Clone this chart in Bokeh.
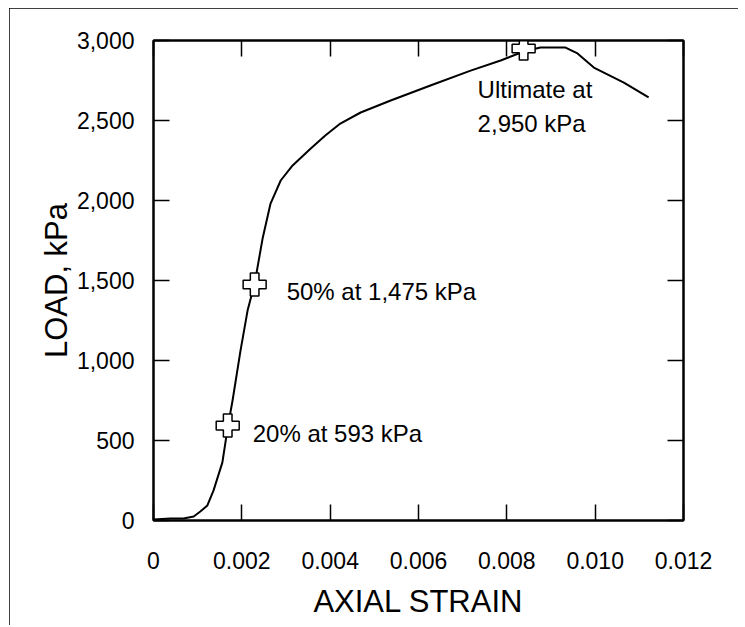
from bokeh.plotting import figure
from bokeh.models import Range1d, LinearAxis, FixedTicker, NumeralTickFormatter, ColumnDataSource
from bokeh.core.properties import value
from bokeh.embed import file_html
from bokeh.resources import INLINE

# ---- data ----
strain = [0, 0.000385, 0.00068, 0.00091, 0.00106, 0.00122, 0.00136, 0.00156, 0.00168,
          0.00179, 0.00197, 0.00213, 0.00229, 0.00247, 0.00265, 0.00288, 0.00315,
          0.00356, 0.00389, 0.00423, 0.00469, 0.00537, 0.00627, 0.00718, 0.00786,
          0.00838, 0.00876, 0.00933, 0.0096, 0.00997, 0.01065, 0.01121]
load = [6, 12, 12, 25, 56, 94, 188, 363, 581,
        750, 1062, 1312, 1481, 1762, 1981, 2125, 2219,
        2325, 2406, 2481, 2550, 2625, 2719, 2812, 2875,
        2931, 2956, 2956, 2919, 2831, 2737, 2644]

marker_strain = [0.00168, 0.00229, 0.00838]
marker_load = [593, 1475, 2950]

ann_text = ["20% at 593 kPa", "50% at 1,475 kPa", "Ultimate at", "2,950 kPa"]
ann_strain = [0.00168, 0.00229, 0.00838, 0.00838]
ann_load = [593, 1475, 2950, 2950]

x_ticks = [0, 0.002, 0.004, 0.006, 0.008, 0.010, 0.012]
y_ticks = [0, 500, 1000, 1500, 2000, 2500, 3000]
x_label = "AXIAL STRAIN"
y_label = "LOAD, kPa"

# ---- styles ----
FONT = "Liberation Sans"
ann_dx = [25, 32, -46, -46]
ann_dy = [8, 7, 41, 75]

p = figure(width=729, height=619, output_backend="svg", toolbar_location=None,
           x_range=Range1d(0, 0.012), y_range=Range1d(0, 3000),
           min_border_left=144, min_border_right=55, min_border_top=32, min_border_bottom=107)
p.margin = (8, 0, 0, 9)
p.styles = {"outline": "2px solid black", "outline-offset": "-2px",
            "clip-path": "inset(0px 0px 2px 0px)"}
p.background_fill_color = "white"
p.border_fill_color = "white"
p.outline_line_color = "black"
p.outline_line_width = 2
p.xgrid.visible = False
p.ygrid.visible = False

def style_axis(ax):
    ax.axis_line_color = "black"
    ax.axis_line_width = 2
    ax.major_tick_line_color = "black"
    ax.major_tick_line_width = 1.5
    ax.major_tick_in = 16
    ax.major_tick_out = 0
    ax.minor_tick_line_color = None
    ax.major_label_text_font = FONT
    ax.major_label_text_color = "black"
    ax.major_label_text_font_size = "23px"
    ax.axis_label_text_font = FONT
    ax.axis_label_text_font_style = "normal"
    ax.axis_label_text_color = "black"
    ax.axis_label_text_font_size = "31px"

xa = p.xaxis[0]
xa.ticker = FixedTicker(ticks=x_ticks)
xa.formatter = NumeralTickFormatter(format="0.000")
xa.major_label_overrides = {0: "0"}
xa.axis_label = x_label
style_axis(xa)
xa.major_label_standoff = 31
xa.axis_label_standoff = 12

ya = p.yaxis[0]
ya.ticker = FixedTicker(ticks=y_ticks)
ya.formatter = NumeralTickFormatter(format="0,0")
ya.axis_label = y_label
style_axis(ya)
ya.major_label_standoff = 19
ya.axis_label_standoff = 0

top = LinearAxis(ticker=FixedTicker(ticks=x_ticks), major_label_standoff=0,
                 major_label_overrides={t: "" for t in x_ticks})
style_axis(top)
p.add_layout(top, "above")
right = LinearAxis(ticker=FixedTicker(ticks=y_ticks), major_label_standoff=0,
                   major_label_overrides={t: "" for t in y_ticks})
style_axis(right)
p.add_layout(right, "right")

p.line(strain, load, line_color="black", line_width=2)
p.scatter(marker_strain, marker_load, marker="plus", size=23,
          fill_color="white", line_color="black", line_width=1.5)

src = ColumnDataSource(dict(x=ann_strain, y=ann_load, t=ann_text, dx=ann_dx, dy=ann_dy))
p.text(x="x", y="y", text="t", x_offset="dx", y_offset="dy", source=src,
       text_font=value(FONT), text_font_size="24px", text_color="black",
       text_align="left", text_baseline="alphabetic")

open("out.html", "w").write(file_html(p, INLINE))
